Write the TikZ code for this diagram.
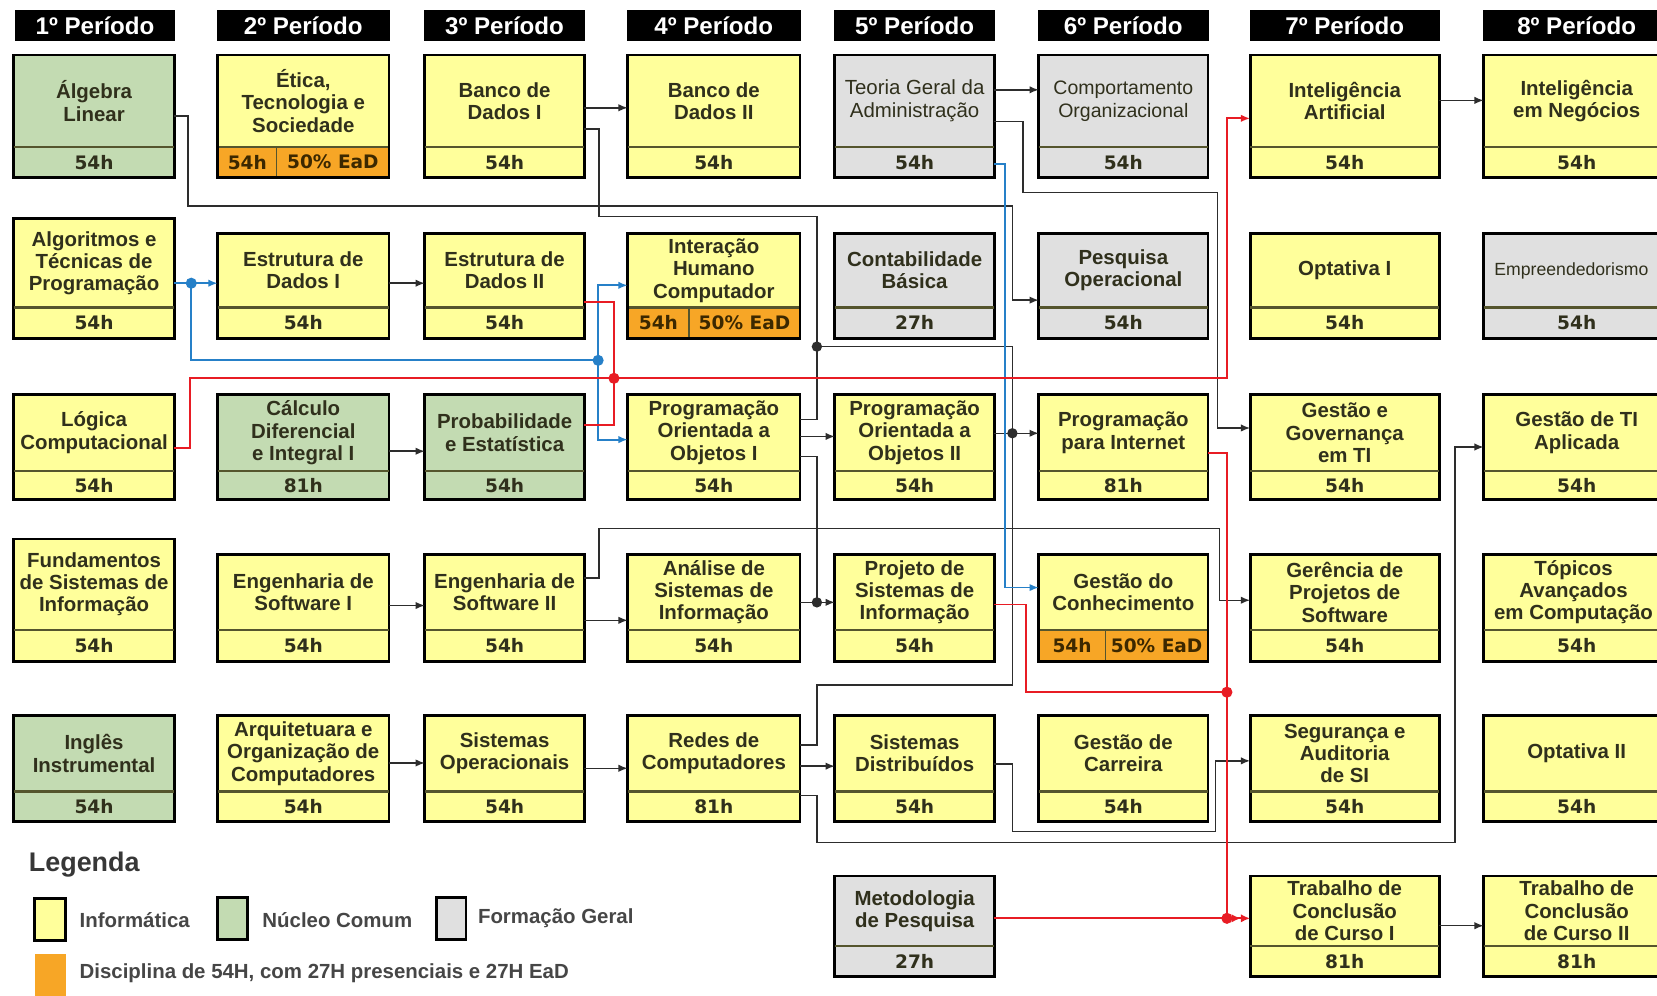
\documentclass[tikz,border=0pt]{standalone}
\usepackage{fontspec}
\setmainfont{Liberation Sans}
\newfontfamily\hoursfont{DejaVu Sans}
\usetikzlibrary{arrows.meta,fit,calc}

\definecolor{yel}{RGB}{255,255,155}
\definecolor{grn}{RGB}{195,219,178}
\definecolor{gry}{RGB}{224,224,224}
\definecolor{org}{RGB}{247,166,38}
\definecolor{txt}{RGB}{48,48,28}
\definecolor{otxt}{RGB}{60,40,0}
\definecolor{lnk}{RGB}{45,45,45}
\definecolor{rlnk}{RGB}{232,28,36}
\definecolor{blnk}{RGB}{38,128,200}
\definecolor{divc}{RGB}{85,85,45}
\definecolor{lgtxt}{RGB}{70,70,70}

\def\curtfont{\fontsize{11}{12}\selectfont\bfseries}
\def\boldtitle{\def\curtfont{\fontsize{11}{12}\selectfont\bfseries}}

% box: name, x1, y1, x2, y2, divider y, fill style, title, hours
\newcommand{\crs}[9]{%
  \node[box,#7,fit={(#2,#3) (#4,#5)}] (#1) {};
  \coordinate (#1-d) at (#2,#6);
  \draw[divl] (#1-d) -- (#1.east |- #1-d);
  \node[ttl] (#1-t) at ({(#2+#4)/2},{(#3+#6)/2}) {#8};
  \node[hrs] (#1-h) at ({(#2+#4)/2},{(#6+#5)/2}) {#9};
}
% orange band: name, split x
\newcommand{\ead}[2]{%
  \fill[org] (#1-d) rectangle (#1.south east);
  \draw[divl] (#1-d) -- (#1.east |- #1-d);
  \draw[divc,line width=0.6pt] (#1-d -| #2,0) -- (#1.south -| #2,0);
  \draw[box] (#1.north west) rectangle (#1.south east);
  \node[hrs,text=otxt] (#1-h1) at ($(#1-d)!0.5!(#1.south -| #2,0)$) {54h};
  \node[hrs,text=otxt] (#1-h2) at ($(#1-d -| #2,0)!0.5!(#1.south east)$) {50\% EaD};
}
% header: name, x1, x2, text
\newcommand{\hdr}[4]{%
  \node[hdrbox,fit={(#2,10) (#3,38)}] (#1) {};
  \node[hdrtxt] (#1-t) at ({(#2+#3)/2},24.5) {#4};
}

\begin{document}
\begin{tikzpicture}[x=0.02cm,y=-0.02cm,
  box/.style={draw=black,line width=1.5pt,inner sep=0pt,outer sep=0pt},
  yelF/.style={fill=yel},
  grnF/.style={fill=grn},
  gryF/.style={fill=gry},
  divl/.style={draw=divc,line width=1.1pt},
  ttl/.style={align=center,inner sep=0pt,text=txt,font=\curtfont},
  hrs/.style={inner sep=0pt,text=txt,font=\hoursfont\fontsize{10}{12}\selectfont\bfseries},
  hdrbox/.style={fill=black,draw=black,inner sep=0pt,outer sep=0pt},
  hdrtxt/.style={text=white,inner sep=0pt,font=\fontsize{13}{15}\selectfont\bfseries},
  conn/.style={draw=lnk,line width=0.8pt},
  rconn/.style={draw=rlnk,line width=1pt},
  bconn/.style={draw=blnk,line width=1pt},
  arr/.style={-{Latex[length=5pt,width=4pt]}},
  arrtwo/.style={-{Latex[length=5pt,width=4.5pt] Latex[length=5pt,width=4.5pt]}},
  lgt/.style={inner sep=0pt,anchor=west,text=lgtxt,font=\fontsize{11}{13}\selectfont\bfseries}
]
\useasboundingbox (0,0) rectangle (1568,942);
\clip (0,0) rectangle (1568,942);
\fill[white] (0,0) rectangle (1568,942);

% headers
\hdr{h1}{15}{165}{1º Período}
\hdr{h2}{206}{368}{2º Período}
\hdr{h3}{402}{553}{3º Período}
\hdr{h4}{594}{757}{4º Período}
\hdr{h5}{790}{941}{5º Período}
\hdr{h6}{983}{1143}{6º Período}
\hdr{h7}{1183}{1362}{7º Período}
\hdr{h8}{1404}{1580}{8º Período}

% row 1
\crs{alg}{13}{52}{165}{168}{139}{grnF}{Álgebra\\Linear}{54h}
\crs{etica}{206}{52}{368}{168}{139}{yelF}{Ética,\\Tecnologia e\\Sociedade}{}
\crs{bd1}{402}{52}{553}{168}{139}{yelF}{Banco de\\Dados I}{54h}
\crs{bd2}{594}{52}{757}{168}{139}{yelF}{Banco de\\Dados II}{54h}
\def\curtfont{\fontsize{11}{12.5}\selectfont\mdseries}
\crs{tga}{790}{52}{941}{168}{139}{gryF}{Teoria Geral da\\Administração}{54h}
\def\curtfont{\fontsize{10.5}{12.5}\selectfont\mdseries}
\crs{comp}{983}{52}{1143}{168}{139}{gryF}{Comportamento\\Organizacional}{54h}
\boldtitle
\crs{ia}{1183}{52}{1362}{168}{139}{yelF}{Inteligência\\Artificial}{54h}
\crs{ineg}{1404}{52}{1580}{168}{139}{yelF}{Inteligência\\em Negócios}{54h}

% row 2
\crs{algo}{13}{207}{165}{320}{291}{yelF}{Algoritmos e\\Técnicas de\\Programação}{54h}
\crs{ed1}{206}{221}{368}{320}{291}{yelF}{Estrutura de\\Dados I}{54h}
\crs{ed2}{402}{221}{553}{320}{291}{yelF}{Estrutura de\\Dados II}{54h}
\crs{ihc}{594}{221}{757}{320}{291}{yelF}{Interação\\Humano\\Computador}{}
\crs{cont}{790}{221}{941}{320}{291}{gryF}{Contabilidade\\Básica}{27h}
\crs{po}{983}{221}{1143}{320}{291}{gryF}{Pesquisa\\Operacional}{54h}
\crs{opt1}{1183}{221}{1362}{320}{291}{yelF}{Optativa I}{54h}
\crs{empr}{1404}{221}{1580}{320}{291}{gryF}{}{54h}
\node[inner sep=0pt,text=txt,font=\fontsize{9.5}{11}\selectfont] (empr-tt) at (1487,256) {Empreendedorismo};

% row 3
\crs{log}{13}{373}{165}{473}{446}{yelF}{Lógica\\Computacional}{54h}
\crs{calc}{206}{373}{368}{473}{446}{grnF}{Cálculo\\Diferencial\\e Integral I}{81h}
\crs{prob}{402}{373}{553}{473}{446}{grnF}{Probabilidade\\e Estatística}{54h}
\crs{poo1}{594}{373}{757}{473}{446}{yelF}{Programação\\Orientada a\\Objetos I}{54h}
\crs{poo2}{790}{373}{941}{473}{446}{yelF}{Programação\\Orientada a\\Objetos II}{54h}
\crs{pint}{983}{373}{1143}{473}{446}{yelF}{Programação\\para Internet}{81h}
\crs{ggti}{1183}{373}{1362}{473}{446}{yelF}{Gestão e\\Governança\\em TI}{54h}
\crs{gtia}{1404}{373}{1580}{473}{446}{yelF}{Gestão de TI\\Aplicada}{54h}

% row 4
\crs{fsi}{13}{510}{165}{626}{596}{yelF}{Fundamentos\\de Sistemas de\\Informação}{54h}
\crs{es1}{206}{525}{368}{626}{596}{yelF}{Engenharia de\\Software I}{54h}
\crs{es2}{402}{525}{553}{626}{596}{yelF}{Engenharia de\\Software II}{54h}
\crs{asi}{594}{525}{757}{626}{596}{yelF}{Análise de\\Sistemas de\\Informação}{54h}
\crs{psi}{790}{525}{941}{626}{596}{yelF}{Projeto de\\Sistemas de\\Informação}{54h}
\crs{gc}{983}{525}{1143}{626}{596}{yelF}{Gestão do\\Conhecimento}{}
\crs{gps}{1183}{525}{1362}{626}{596}{yelF}{Gerência de\\Projetos de\\Software}{54h}
\crs{tac}{1404}{525}{1580}{626}{596}{yelF}{}{54h}
\node[ttl] (tac-tt) at (1489,560.5) {Tópicos\\Avançados\\em Computação};

% row 5
\crs{ing}{13}{677}{165}{777}{749}{grnF}{Inglês\\Instrumental}{54h}
\crs{aoc}{206}{677}{368}{777}{749}{yelF}{Arquitetuara e\\Organização de\\Computadores}{54h}
\crs{so}{402}{677}{553}{777}{749}{yelF}{Sistemas\\Operacionais}{54h}
\crs{redes}{594}{677}{757}{777}{749}{yelF}{Redes de\\Computadores}{81h}
\crs{sd}{790}{677}{941}{777}{749}{yelF}{Sistemas\\Distribuídos}{54h}
\crs{gcar}{983}{677}{1143}{777}{749}{yelF}{Gestão de\\Carreira}{54h}
\crs{sas}{1183}{677}{1362}{777}{749}{yelF}{Segurança e\\Auditoria\\de SI}{54h}
\crs{opt2}{1404}{677}{1580}{777}{749}{yelF}{Optativa II}{54h}

% row 6
\crs{met}{790}{829}{941}{924}{895}{gryF}{Metodologia\\de Pesquisa}{27h}
\crs{tcc1}{1183}{829}{1362}{924}{895}{yelF}{Trabalho de\\Conclusão\\de Curso I}{81h}
\crs{tcc2}{1404}{829}{1580}{924}{895}{yelF}{Trabalho de\\Conclusão\\de Curso II}{81h}

% EaD bands
\ead{etica}{262}
\ead{ihc}{652}
\ead{gc}{1046}

% junctions
\coordinate (J1) at (773,328);
\coordinate (J2) at (958,410);
\coordinate (J3) at (773,570);
\coordinate (B1) at (181,268);
\coordinate (B2) at (566,341);
\coordinate (R1) at (581,358);
\coordinate (R2) at (1161,655);
\coordinate (R3) at (1161,869);

% black connectors
\draw[conn,arr] (alg.east |- 0,110) -| (178,195) -| (958,284) -- (po.west |- 0,284);
\draw[conn,arr] (bd1.east |- 0,102) -- (bd2.west |- 0,102);
\draw[conn] (bd1.east |- 0,122) -| (567,205) -| (J1);
\draw[conn] (poo1.east |- 0,397) -| (J1);
\draw[conn] (J1) -| (J2);
\draw[conn] (redes.east |- 0,705) -| (773,648) -| (J2);
\draw[conn] (poo2.east |- J2) -- (J2);
\draw[conn,arr] (J2) -- (pint.west |- J2);
\draw[conn,arr] (tga.east |- 0,85) -- (comp.west |- 0,85);
\draw[conn,arr] (tga.east |- 0,115) -| (968,182) -| (1152,405) -- (ggti.west |- 0,405);
\draw[conn,arr] (ia.east |- 0,95) -- (ineg.west |- 0,95);
\draw[conn,arr] (ed1.east |- 0,268) -- (ed2.west |- 0,268);
\draw[conn,arr] (calc.east |- 0,427) -- (prob.west |- 0,427);
\draw[conn,arr] (es1.east |- 0,573) -- (es2.west |- 0,573);
\draw[conn,arr] (es2.east |- 0,587) -- (asi.west |- 0,587);
\draw[conn,arr] (es2.east |- 0,547) -| (567,500) -| (1154,568) -- (gps.west |- 0,568);
\draw[conn,arr] (poo1.east |- 0,413) -- (poo2.west |- 0,413);
\draw[conn] (poo1.east |- 0,432) -| (J3);
\draw[conn] (asi.east |- J3) -- (J3);
\draw[conn,arr] (J3) -- (psi.west |- J3);
\draw[conn,arr] (aoc.east |- 0,722) -- (so.west |- 0,722);
\draw[conn,arr] (so.east |- 0,727) -- (redes.west |- 0,727);
\draw[conn,arr] (redes.east |- 0,725) -- (sd.west |- 0,725);
\draw[conn,arr] (redes.east |- 0,753) -| (773,797) -| (1377,423) -- (gtia.west |- 0,423);
\draw[conn,arr] (sd.east |- 0,723) -| (958,787) -| (1150,720) -- (sas.west |- 0,720);
\draw[conn,arr] (tcc1.east |- 0,876) -- (tcc2.west |- 0,876);

% blue connectors
\draw[bconn] (algo.east |- B1) -- (B1);
\draw[bconn,arr] (B1) -- (ed1.west |- B1);
\draw[bconn] (B1) |- (B2);
\draw[bconn,arr] (B2) |- (ihc.west |- 0,270);
\draw[bconn,arr] (B2) |- (poo1.west |- 0,416);
\draw[bconn,arr] (tga.east |- 0,155) -| (951,556) -- (gc.west |- 0,556);

% red connectors
\draw[rconn] (log.east |- 0,424) -| (180,358) -- (R1);
\draw[rconn] (ed2.east |- 0,286) -| (R1);
\draw[rconn] (prob.east |- 0,402) -| (R1);
\draw[rconn,arr] (R1) -| (1161,112) -- (ia.west |- 0,112);
\draw[rconn] (pint.east |- 0,429) -| (R2);
\draw[rconn] (psi.east |- 0,572) -| (971,655) -- (R2);
\draw[rconn] (R2) -- (R3);
\draw[rconn] (met.east |- R3) -- (R3);
\draw[rconn,arrtwo] (R3) -- (tcc1.west |- R3);

% dots
\fill[lnk] (J1) circle (2.8pt);
\fill[lnk] (J2) circle (2.8pt);
\fill[lnk] (J3) circle (2.8pt);
\fill[blnk] (B1) circle (3pt);
\fill[blnk] (B2) circle (3pt);
\fill[rlnk] (R1) circle (3pt);
\fill[rlnk] (R2) circle (3pt);
\fill[rlnk] (R3) circle (3pt);

% legend
\node[inner sep=0pt,anchor=west,text={rgb,255:red,55;green,55;blue,55},font=\fontsize{14.5}{16}\selectfont\bfseries] (leg) at (27,818) {Legenda};
\node[box,yelF,fit={(33,850) (62,890)}] (lgy) {};
\node[lgt] (lgyt) at (75,871) {Informática};
\node[box,grnF,fit={(206,849) (234,889)}] (lgg) {};
\node[lgt] (lggt) at (248,871) {Núcleo Comum};
\node[box,gryF,fit={(413,849) (441,889)}] (lgr) {};
\node[lgt] (lgrt) at (452,869) {Formação Geral};
\node[fill=org,inner sep=0pt,outer sep=0pt,fit={(33,903) (62,945)}] (lgo) {};
\node[lgt] (lgot) at (75,921) {Disciplina de 54H, com 27H presenciais e 27H EaD};
\end{tikzpicture}
\end{document}
